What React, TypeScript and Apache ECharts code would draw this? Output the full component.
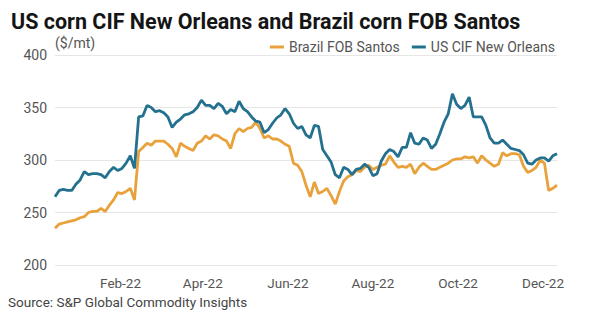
import React, { useEffect, useRef } from "react";
import * as echarts from "echarts";

const TITLE = "US corn CIF New Orleans and Brazil corn FOB Santos";
const UNIT = "($/mt)";
const SOURCE = "Source: S&P Global Commodity Insights";
const SERIES_NAMES = ["Brazil FOB Santos", "US CIF New Orleans"];
const COLORS = ["#e9a23b", "#23708f"];

// observation schedule: every 3 days from 16 Dec 2021
const START = Date.UTC(2021, 11, 16);
const STEP_DAYS = 3;

const usCif = [
  265, 271, 272, 271, 271, 277, 281, 289, 286, 287,
  287, 286, 283, 289, 293, 290, 292, 297, 304, 292,
  341, 342, 352, 350, 346, 347, 345, 341, 331, 336,
  339, 343, 344, 346, 350, 357, 352, 352, 349, 354,
  351, 344, 348, 346, 356, 349, 346, 341, 337, 336,
  326, 329, 335, 340, 343, 349, 344, 335, 330, 332,
  324, 321, 333, 332, 310, 304, 298, 286, 283, 293,
  291, 286, 291, 292, 296, 293, 285, 287, 299, 306,
  310, 308, 303, 312, 312, 326, 316, 315, 321, 319,
  311, 315, 325, 336, 344, 363, 353, 349, 352, 360,
  341, 341, 341, 333, 321, 316, 316, 319, 315, 311,
  310, 309, 305, 297, 296, 300, 302, 302, 299, 304,
  306,
];

const brazilFob = [
  235, 239, 240, 241, 242, 243, 245, 246, 250, 251,
  251, 254, 251, 257, 262, 269, 268, 270, 273, 262,
  308, 312, 316, 314, 318, 318, 318, 315, 311, 303,
  316, 313, 311, 309, 316, 318, 323, 320, 324, 323,
  320, 318, 311, 325, 330, 327, 330, 331, 336, 330,
  321, 323, 320, 320, 318, 315, 313, 297, 295, 289,
  276, 265, 279, 268, 270, 273, 266, 258, 270, 280,
  284, 286, 290, 289, 293, 295, 291, 293, 295, 296,
  304, 298, 293, 294, 293, 296, 287, 293, 297, 294,
  291, 291, 293, 295, 297, 300, 301, 301, 303, 302,
  303, 297, 304, 300, 297, 294, 296, 307, 304, 306,
  306, 305, 294, 288, 290, 293, 300, 297, 271, 273,
  276,
];

const Y_TICKS = [200, 250, 300, 350, 400];
const X_LABEL_DATES = [
  [2022, 1], [2022, 3], [2022, 5], [2022, 7], [2022, 9], [2022, 11],
];
const MONTHS = ["Jan", "Feb", "Mar", "Apr", "May", "Jun", "Jul", "Aug", "Sep", "Oct", "Nov", "Dec"];

const DAY = 86400000;
const dates = usCif.map((_, i) => START + i * STEP_DAYS * DAY);

export default function App() {
  const ref = useRef<HTMLDivElement>(null);
  useEffect(() => {
    if (!ref.current) return;
    const chart = echarts.init(ref.current, null, { renderer: "svg" });
    const labelValues = X_LABEL_DATES.map(([y, m]) => Date.UTC(y, m, 1));
    const font = "Roboto, 'Noto Sans', sans-serif";
    chart.setOption({
      animation: false,
      textStyle: { fontFamily: font },
      title: {
        text: TITLE,
        left: 6,
        top: 5,
        textStyle: { fontSize: 21.5, fontWeight: "bold", color: "#151515", fontFamily: font },
      },
      legend: {
        data: SERIES_NAMES,
        right: 40,
        top: 35,
        itemWidth: 14,
        itemHeight: 3,
        itemGap: 12,
        icon: "rect",
        textStyle: { fontSize: 14, color: "#555", fontFamily: font },
      },
      graphic: [
        {
          type: "text",
          left: 55,
          top: 36,
          style: { text: UNIT, fontSize: 14, fill: "#555", fontFamily: font },
        },
        {
          type: "text",
          left: 8,
          top: 295,
          style: { text: SOURCE, fontSize: 13.5, fill: "#444", fontFamily: font },
        },
      ],
      grid: { left: 55, right: 43, top: 55, bottom: 57, containLabel: false },
      xAxis: {
        type: "value",
        min: START,
        max: dates[dates.length - 1],
        axisLine: { show: false },
        axisTick: { show: false },
        splitLine: { show: false },
        axisLabel: {
          customValues: labelValues,
          color: "#555",
          fontSize: 13.5,
          margin: 11,
          fontFamily: font,
          formatter: (v: number) => {
            const d = new Date(v);
            return MONTHS[d.getUTCMonth()] + "-" + String(d.getUTCFullYear()).slice(2);
          },
        },
      },
      yAxis: {
        type: "value",
        min: Y_TICKS[0],
        max: Y_TICKS[Y_TICKS.length - 1],
        interval: 50,
        axisLine: { show: false },
        axisTick: { show: false },
        splitLine: { lineStyle: { color: "#e6e6e6", width: 1 } },
        axisLabel: { color: "#555", fontSize: 14, margin: 8, fontFamily: font },
      },
      series: [
        {
          name: SERIES_NAMES[0],
          type: "line",
          data: dates.map((d, i) => [d, brazilFob[i]]),
          showSymbol: false,
          lineStyle: { color: COLORS[0], width: 2.8 },
          itemStyle: { color: COLORS[0] },
        },
        {
          name: SERIES_NAMES[1],
          type: "line",
          data: dates.map((d, i) => [d, usCif[i]]),
          showSymbol: false,
          lineStyle: { color: COLORS[1], width: 2.8 },
          itemStyle: { color: COLORS[1] },
        },
      ],
    });
    return () => chart.dispose();
  }, []);
  return <div ref={ref} style={{ width: 600, height: 322, position: "absolute", left: 0, top: 0 }} />;
}
